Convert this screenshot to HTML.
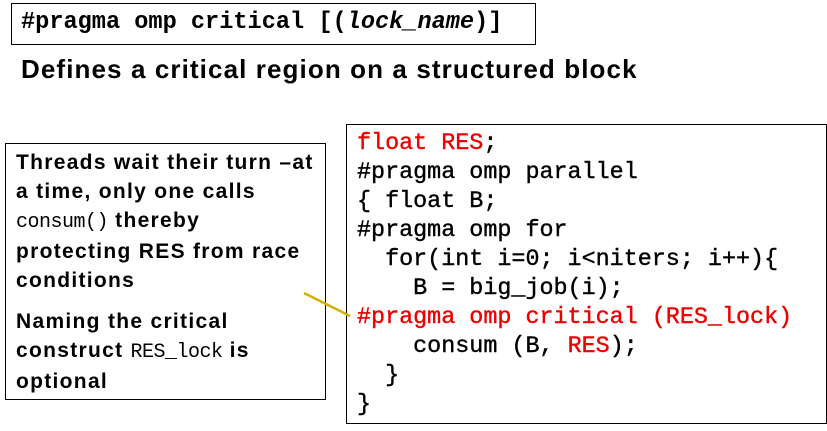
<!DOCTYPE html>
<html><head><style>
body{margin:0;width:827px;height:431px;background:#fff;position:relative;overflow:hidden;font-family:"Liberation Sans",sans-serif}
.box{position:absolute;border:1.5px solid #000;box-sizing:border-box}
.mono{font-family:"Liberation Mono",monospace;font-weight:bold}
.r{color:#e00}
.t{position:absolute;white-space:pre}
</style></head><body>
<div class="box" style="left:11px;top:3px;width:525px;height:42px"></div>
<div class="t mono" style="left:21px;top:9px;font-size:23.6px;line-height:28px">#pragma omp critical [(<i>lock_name</i>)]</div>
<div class="t" style="left:21px;top:54px;font-size:26px;font-weight:bold;letter-spacing:1.1px">Defines a critical region on a structured block</div>

<div class="box" style="left:5px;top:143px;width:321px;height:257px"></div>
<div class="t" style="left:16px;top:148px;font-size:21px;font-weight:bold;line-height:29px;letter-spacing:1.3px">Threads wait their turn –at
a time, only one calls
<span class="mono" style="font-weight:normal;font-size:20px;letter-spacing:-0.5px">consum()</span> thereby
protecting RES from race
conditions</div>
<div class="t" style="left:16px;top:307px;font-size:21px;font-weight:bold;line-height:29px;letter-spacing:1.3px">Naming the critical
construct <span class="mono" style="font-weight:normal;font-size:20px;letter-spacing:-0.5px">RES_lock</span> is
optional</div>

<div class="box" style="left:346px;top:124px;width:481px;height:300px"></div>
<div class="t mono" style="left:357px;top:130px;font-size:23.4px;line-height:29px;font-weight:normal;-webkit-text-stroke:0.4px #000"><span class="r" style="-webkit-text-stroke:0.4px #e00">float RES</span>;
#pragma omp parallel
{ float B;
#pragma omp for
  for(int i=0; i&lt;niters; i++){
    B = big_job(i);
<span class="r" style="-webkit-text-stroke:0.4px #e00">#pragma omp critical (RES_lock)</span>
    consum (B, <span class="r" style="-webkit-text-stroke:0.4px #e00">RES</span>);
  }
}</div>
<svg style="position:absolute;left:0;top:0" width="827" height="431"><line x1="304" y1="293" x2="350" y2="316" stroke="#d4b000" stroke-width="2.5"/></svg>
</body></html>
